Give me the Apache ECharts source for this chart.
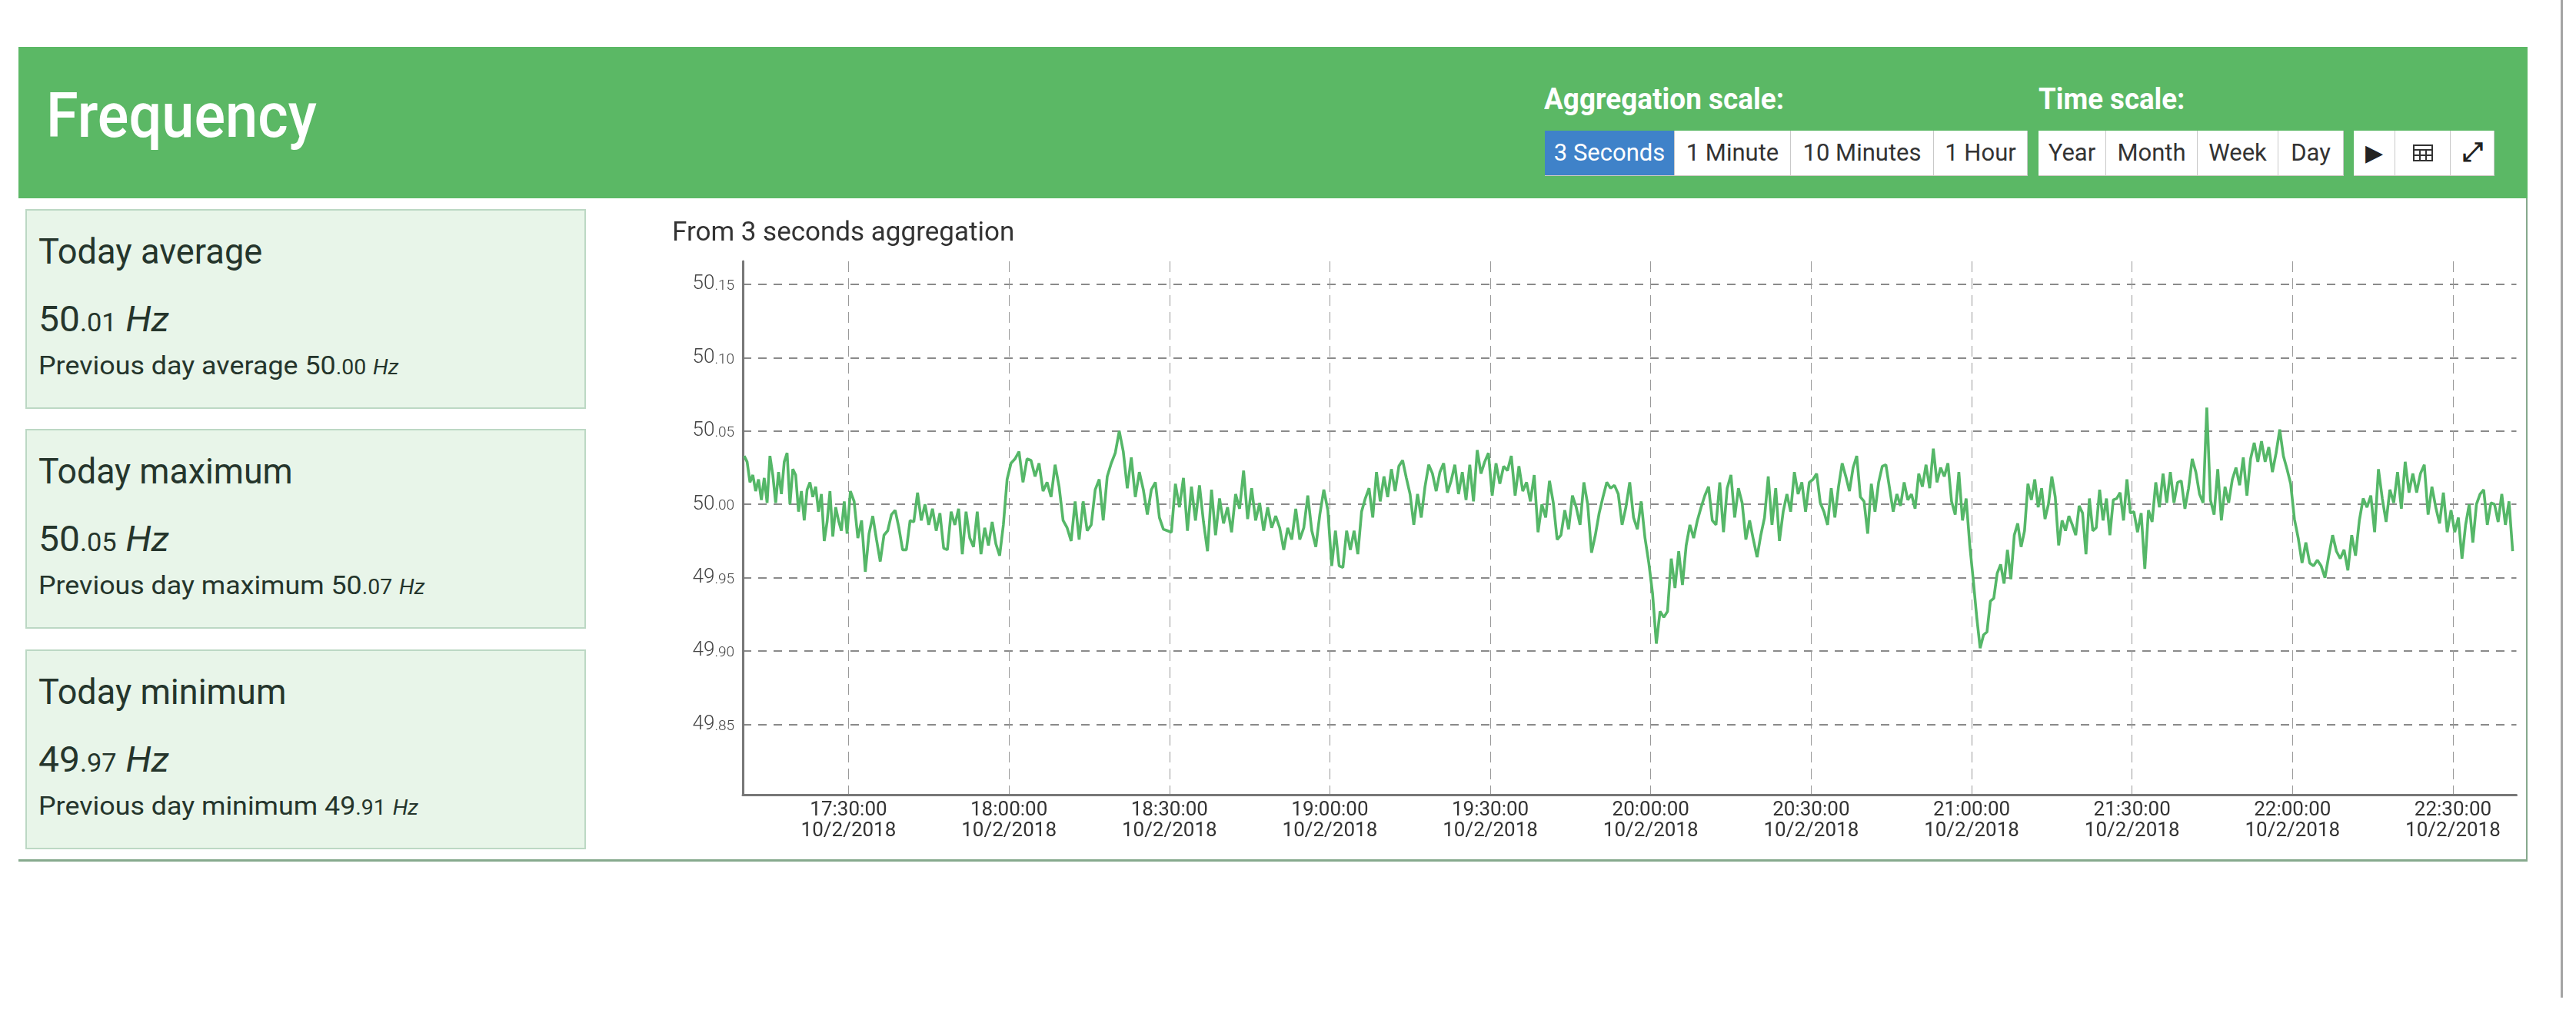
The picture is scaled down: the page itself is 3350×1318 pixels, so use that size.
<!DOCTYPE html>
<html>
<head>
<meta charset="utf-8">
<title>Frequency</title>
<script src="https://cdn.jsdelivr.net/npm/echarts@6/dist/echarts.min.js"></script>
<style>
  html, body { margin: 0; background: #fff; }
  body { width: 3350px; height: 1318px; position: relative; overflow: hidden; font-family: Roboto, sans-serif; color: #25352c; }
  .abs { position: absolute; }
  .t { position: absolute; white-space: nowrap; line-height: 1; transform-origin: 0 50%; }
  #head { left: 24px; top: 61px; width: 3263px; height: 197px; background: #5bb865; }
  #panel { left: 24px; top: 258px; width: 3261px; height: 860px; border: solid #86a98d; border-width: 0 2px 3px 2px; border-left: 0; background: #fff; }
  .card { position: absolute; left: 33px; width: 725px; height: 256px; background: #e8f5e9; border: 2px solid #bcd8c4; }
  .btn { position: absolute; top: 170px; height: 58px; background: #fff; color: #333; border-right: 1px solid #c9c9c9; box-sizing: border-box; box-shadow: 0 1px 0 #cfc9c4; }
  .btn.on { background: #3f82c9; color: #fff; }
  .btn span { position: absolute; top: 13px; left: 0; width: 100%; text-align: center; font-size: 31px; line-height: 32px; white-space: nowrap; }
  #chart { position: absolute; left: 860px; top: 270px; width: 2425px; height: 845px; }
  #edge { left: 3330px; top: 0; width: 3px; height: 1298px; background: #a5a5a5; }
</style>
</head>
<body>
<div id="head" class="abs"></div>
<div id="panel" class="abs"></div>
<div id="chart"></div>
<div id="edge" class="abs"></div>
<script>
// ── stat cards ──
const statTitles = ["Today average", "Today maximum", "Today minimum"];
const statValues = ["50.01", "50.05", "49.97"];
const prevLabels = ["Previous day average", "Previous day maximum", "Previous day minimum"];
const prevValues = ["50.00", "50.07", "49.91"];

// ── header buttons ──
const aggButtons = ["3 Seconds", "1 Minute", "10 Minutes", "1 Hour"];
const timeButtons = ["Year", "Month", "Week", "Day"];

// ── axis ──
const yTicks = [49.85, 49.90, 49.95, 50.00, 50.05, 50.10, 50.15];
const xTickTimes = ["17:30:00", "18:00:00", "18:30:00", "19:00:00", "19:30:00", "20:00:00",
  "20:30:00", "21:00:00", "21:30:00", "22:00:00", "22:30:00"];
const tickDate = "10/2/2018";

// ── frequency readings in Hz, one list per half hour ──
const f1710 = [50.033,50.029,50.015,50.020,50.009,50.017,50.003,50.018,50.001,50.033,50.020,50.001,50.022,50.007,50.029,50.035,50.000,50.024,50.020,49.995,50.009,49.989,50.010,50.015,50.005,50.012,49.995,50.007,49.975,49.988,50.009,49.978,49.998,49.989,49.982,50.002,49.980];
const f1730 = [50.009,50.002,49.977,49.989,49.954,49.980,49.992,49.976,49.961,49.979,49.982,49.993,49.996,49.984,49.969,49.969,49.989,49.988,50.008,49.989,50.000,49.986,49.997,49.982,49.994,49.970,49.969,49.995,49.986,49.997,49.966,49.995,49.977,49.971,49.995,49.966,49.984,49.972,49.988,49.973,49.965,49.986,50.017];
const f1800 = [50.028,50.031,50.036,50.015,50.031,50.030,50.019,50.028,50.009,50.015,50.005,50.027,50.012,49.989,49.984,49.975,50.002,49.976,50.002,49.982,49.986,50.010,50.017,49.989,50.019,50.028,50.035,50.050,50.036,50.011,50.032,50.005,50.022,50.010,49.993,50.010,50.015,49.991,49.983,49.982];
const f1830 = [49.981,50.014,49.998,50.018,49.982,50.012,49.989,50.013,49.988,49.968,50.010,49.979,50.004,49.987,49.998,49.981,50.007,49.997,50.023,49.990,50.011,49.989,50.001,49.982,49.998,49.984,49.992,49.984,49.969,49.984,49.976,49.997,49.976,49.984,50.006,49.982,49.971,49.993,50.010,49.996];
const f1900 = [49.958,49.982,49.958,49.957,49.982,49.969,49.982,49.966,49.995,50.004,50.011,49.991,50.022,50.002,50.019,50.005,50.024,50.009,50.026,50.030,50.018,50.007,49.986,50.007,49.991,50.012,50.027,50.021,50.009,50.022,50.028,50.008,50.016,50.027,50.007,50.022,50.003,50.027,50.002,50.037,50.021,50.029,50.035];
const f1930 = [50.006,50.028,50.014,50.026,50.023,50.033,50.006,50.026,50.009,50.015,50.002,50.020,49.981,50.000,49.991,50.016,50.001,49.976,49.979,49.996,49.983,50.006,49.998,49.986,50.015,50.000,49.967,49.979,49.994,50.005,50.015,50.011,50.013,50.007,49.986,49.998,50.015,49.991,49.983,50.002,49.977,49.960];
const f2000 = [49.939,49.905,49.927,49.923,49.927,49.963,49.943,49.968,49.945,49.972,49.986,49.977,49.989,49.998,50.006,50.012,49.989,49.986,50.015,49.981,50.011,50.020,49.991,50.011,50.001,49.976,49.989,49.976,49.964,49.979,49.991,50.019,49.986,50.011,49.975,49.995,50.007,49.995,50.022,50.007,50.015,49.995,50.015];
const f2030 = [50.017,50.021,50.001,49.995,49.986,50.011,49.991,50.012,50.028,50.019,50.009,50.025,50.033,50.005,50.002,49.980,50.014,49.995,50.015,50.026,50.027,50.011,49.995,50.007,49.999,50.015,50.003,50.007,49.997,50.021,50.012,50.027,50.011,50.038,50.015,50.025,50.019,50.028,50.002,49.993,50.022,49.989,50.004,49.972];
const f2100 = [49.948,49.923,49.902,49.911,49.913,49.934,49.936,49.953,49.959,49.946,49.969,49.949,49.979,49.987,49.971,49.982,50.014,50.003,50.017,49.998,50.011,49.990,50.000,50.019,50.005,49.972,49.989,49.982,49.992,49.986,49.979,49.999,49.994,49.966,50.004,49.982,49.984,50.010,49.989,50.004,49.979,50.003,50.004,50.008,49.989,50.017,49.994];
const f2130 = [49.995,49.981,49.994,49.956,49.996,49.988,50.015,49.998,50.021,50.001,50.022,50.001,50.015,50.016,49.997,50.011,50.031,50.022,50.007,50.001,50.066,50.003,49.993,50.024,49.989,50.012,50.001,50.017,50.025,50.013,50.032,50.006,50.031,50.042,50.029,50.043,50.029,50.039,50.022,50.035,50.051,50.033,50.024,50.014];
const f2200 = [49.990,49.977,49.960,49.974,49.960,49.958,49.962,49.958,49.950,49.965,49.979,49.968,49.963,49.969,49.955,49.979,49.965,49.989,50.004,49.998,50.006,49.981,50.024,50.004,49.988,50.010,50.001,50.022,49.997,50.029,50.008,50.021,50.008,50.021,50.027,49.993,50.012,49.998,49.987,50.008,49.981,49.996];
const f2230 = [49.981,49.991,49.963,49.986,50.000,49.974,50.000,50.007,50.010,49.986,50.001,50.000,49.988,50.007,49.986,50.002,49.968];

// ── x axis runs in seconds of the day; each list spans [from, to] ──
const hms = (s) => { const [h, m, x] = s.split(":").map(Number); return h * 3600 + m * 60 + x; };
const axisStart = hms("17:10:14"), axisEnd = hms("22:41:52");
const spans = [
  [f1710, axisStart, hms("17:30:00")], [f1730, hms("17:30:00"), hms("18:00:00")],
  [f1800, hms("18:00:00"), hms("18:30:00")], [f1830, hms("18:30:00"), hms("19:00:00")],
  [f1900, hms("19:00:00"), hms("19:30:00")], [f1930, hms("19:30:00"), hms("20:00:00")],
  [f2000, hms("20:00:00"), hms("20:30:00")], [f2030, hms("20:30:00"), hms("21:00:00")],
  [f2100, hms("21:00:00"), hms("21:30:00")], [f2130, hms("21:30:00"), hms("22:00:00")],
  [f2200, hms("22:00:00"), hms("22:30:00")], [f2230, hms("22:30:00"), hms("22:41:30")],
];
const seriesData = spans.flatMap(([vals, from, to]) =>
  vals.map((v, i) => [from + (i + 0.5) * (to - from) / vals.length, v]));

// ── page text: x, baseline, font size, target width ──
function text(html, x, base, fs, w, css) {
  const el = document.createElement("div");
  el.className = "t";
  el.innerHTML = html;
  el.style.cssText = `left:${x}px;top:${base - 0.84 * fs}px;font-size:${fs}px;${css || ""}`;
  document.body.appendChild(el);
  if (w) el.style.transform = `scaleX(${w / el.offsetWidth})`;
  return el;
}
const hz = (v, big, small) => {
  const [a, b] = v.split(".");
  return `<span style="font-size:${big}px">${a}</span><span style="font-size:${small}px">.${b}</span> <i style="font-size:${small === 27 ? 27 : big}px">Hz</i>`;
};

text("Frequency", 60, 178, 82, 352, "color:#fff;font-weight:500");
text("Aggregation scale:", 2008, 142, 38, 312, "color:#fff;font-weight:700");
text("Time scale:", 2651, 142, 38, 190, "color:#fff;font-weight:700");

const cardTops = [272, 558, 845];
const titleW = [291, 331, 322], prevW = [469, 502, 494];
statTitles.forEach((title, i) => {
  const c = document.createElement("div");
  c.className = "card";
  c.style.top = cardTops[i] + "px";
  document.body.appendChild(c);
  const y = cardTops[i];
  text(title, 50, y + 71, 46, titleW[i]);
  text(hz(statValues[i], 46, 33), 50, y + 159, 46, 170);
  text(`${prevLabels[i]} ${hz(prevValues[i], 34, 27)}`, 50, y + 215, 34, prevW[i]);
});

function btn(label, x0, x1, on) {
  const b = document.createElement("div");
  b.className = "btn" + (on ? " on" : "");
  b.style.left = x0 + "px";
  b.style.width = (x1 - x0) + "px";
  b.innerHTML = `<span>${label}</span>`;
  document.body.appendChild(b);
}
const aggEdges = [2009, 2178, 2329, 2515, 2637];
aggButtons.forEach((s, i) => btn(s, aggEdges[i], aggEdges[i + 1], i === 0));
const timeEdges = [2651, 2739, 2858, 2963, 3048];
timeButtons.forEach((s, i) => btn(s, timeEdges[i], timeEdges[i + 1], false));
btn('<b style="font-family:DejaVu Sans;font-size:30px;color:#222">&#9654;</b>', 3061, 3115);
btn('<svg width="28" height="24" viewBox="0 0 28 24" style="margin-top:4px"><path d="M2 2h24v20H2zM2 8h24M2 15h24M10 8v14M18 8v14" fill="none" stroke="#333" stroke-width="2"/></svg>', 3115, 3187);
btn('<span style="font-family:DejaVu Sans;font-size:34px;font-weight:700;color:#222;top:-2px">&#10530;</span>', 3187, 3244);

// ── chart ──
const chart = echarts.init(document.getElementById("chart"), null, { renderer: "canvas" });
chart.setOption({
  animation: false,
  backgroundColor: "transparent",
  title: {
    text: "From 3 seconds aggregation", left: 9, top: 12,
    textStyle: { fontFamily: "Roboto", fontSize: 35, fontWeight: 400, color: "#333" },
  },
  grid: { left: 106, top: 70, width: 2306.5, height: 694 },
  xAxis: {
    type: "value", min: axisStart, max: axisEnd,
    axisLine: { lineStyle: { color: "#777", width: 3 } },
    axisTick: { show: false, customValues: xTickTimes.map(hms) },
    axisLabel: {
      customValues: xTickTimes.map(hms), margin: 7,
      fontFamily: "Roboto", fontSize: 26, lineHeight: 27, color: "#333",
      formatter: (v) => {
        const p = (n) => String(n).padStart(2, "0");
        return `${p(Math.floor(v / 3600))}:${p(Math.floor(v / 60) % 60)}:${p(v % 60)}\n${tickDate}`;
      },
    },
    splitLine: { show: true, lineStyle: { color: "#999", width: 1, type: [14, 8] } },
  },
  yAxis: {
    type: "value", min: 49.802, max: 50.1657,
    axisLine: { show: true, lineStyle: { color: "#777", width: 3 } },
    axisTick: { show: false, customValues: yTicks },
    axisLabel: {
      customValues: yTicks, margin: 11,
      formatter: (v) => {
        const [a, b] = v.toFixed(2).split(".");
        return `{a|${a}}{b|.${b}}`;
      },
      rich: {
        a: { fontFamily: "Roboto", fontSize: 26, fontWeight: 300, color: "#444" },
        b: { fontFamily: "Roboto", fontSize: 19, fontWeight: 300, color: "#444", padding: [5, 0, 0, 0] },
      },
    },
    splitLine: { show: true, lineStyle: { color: "#8a8a8a", width: 2, type: [11, 9] } },
  },
  series: [{
    type: "line", data: seriesData, showSymbol: false, smooth: false,
    lineStyle: { color: "#55b768", width: 3.6 }, clip: true, z: 5,
  }],
});
</script>
</body>
</html>
